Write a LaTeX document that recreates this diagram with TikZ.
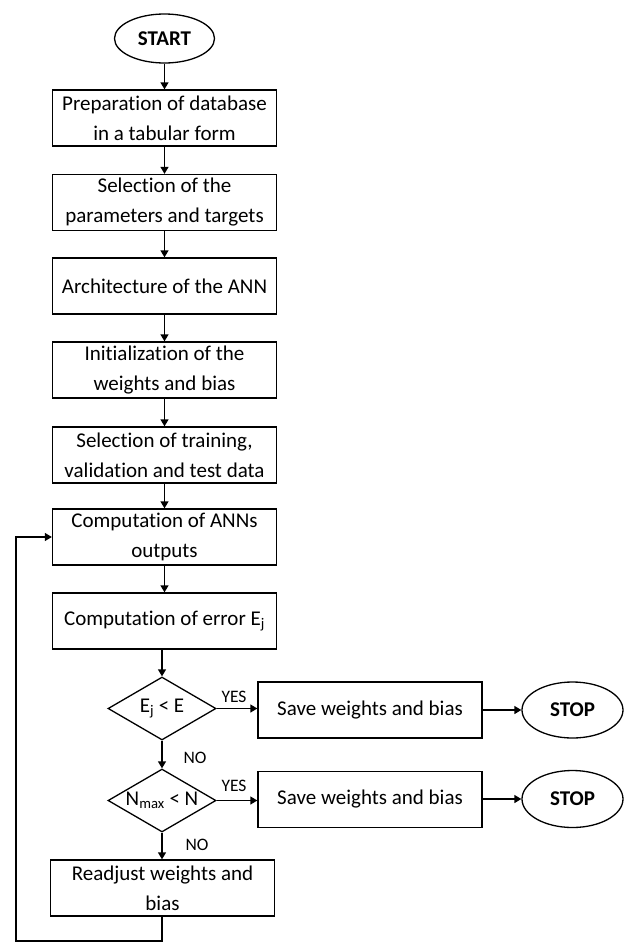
\documentclass[tikz,border=0pt]{standalone}
\usepackage{fontspec}
\setmainfont{Carlito}[Ligatures={NoCommon}]
\usetikzlibrary{shapes.geometric,arrows.meta}
\begin{document}
\begin{tikzpicture}[x=1pt,y=-1pt,
  every node/.style={font=\fontsize{21}{30}\selectfont},
  box/.style={draw, line width=1.3pt, rectangle, minimum width=224pt, minimum height=56pt, inner sep=0pt, align=center},
  term/.style={draw, line width=1.3pt, ellipse, minimum width=100pt, minimum height=49pt, inner sep=0pt, font=\fontsize{21}{30}\selectfont\bfseries},
  dec/.style={draw, line width=1.3pt, diamond, aspect=1.7, minimum width=108pt, minimum height=63pt, inner sep=0pt},
  lab/.style={font=\fontsize{17.5}{20}\selectfont, inner sep=0pt},
  arr/.style={line width=1.3pt, -{Triangle[length=7pt,width=8pt]}},
]
\useasboundingbox (0,0) rectangle (625,943);

\node[term] (start) at (164.5,38.5) {START};
\node[box] (b1) at (164.5,118) {Preparation of database\\in a tabular form};
\node[box] (b2) at (164.5,202.5) {Selection of the\\parameters and targets};
\node[box] (b3) at (164.5,286) {Architecture of the ANN};
\node[box] (b4) at (164.5,370) {Initialization of the\\weights and bias};
\node[box] (b5) at (164.5,455) {Selection of training,\\validation and test data};
\node[box] (b6) at (164.5,537) {Computation of ANNs\\outputs};
\node[box] (b7) at (164.5,621) {Computation of error E\textsubscript{j}};

\node[dec] (d1) at (162,708.5) {E\textsubscript{j} < E};
\node[box] (s1) at (370,710) {Save weights and bias};
\node[term, minimum width=101pt, minimum height=56pt] (stop1) at (572.5,710) {STOP};

\node[dec] (d2) at (162,800.5) {N\textsubscript{max} < N};
\node[box] (s2) at (370,799.5) {Save weights and bias};
\node[term, minimum width=101pt, minimum height=57pt] (stop2) at (572.5,799) {STOP};

\node[box] (r) at (162.5,888) {Readjust weights and\\bias};

\coordinate (c1) at (16,941);

\draw[arr] (start) -- (b1);
\draw[arr] (b1) -- (b2);
\draw[arr] (b2) -- (b3);
\draw[arr] (b3) -- (b4);
\draw[arr] (b4) -- (b5);
\draw[arr] (b5) -- (b6);
\draw[arr] (b6) -- (b7);
\draw[arr] (b7.south -| d1.north) -- (d1.north);
\draw[arr] (d1.east) -- (s1.west |- d1.east);
\draw[arr] (s1.east |- stop1.west) -- (stop1.west);
\draw[arr] (d1.south) -- (d2.north);
\draw[arr] (d2.east) -- (s2.west |- d2.east);
\draw[arr] (s2.east |- stop2.west) -- (stop2.west);
\draw[arr] (d2.south) -- (r.north -| d2.south);
\draw[arr] (r.south -| d2.south) |- (c1) |- (b6.west);

\node[lab] (y1) at (234,697) {YES};
\node[lab] (y2) at (234,786) {YES};
\node[lab] (n1) at (195,758) {NO};
\node[lab] (n2) at (197,845) {NO};
\end{tikzpicture}
\end{document}
